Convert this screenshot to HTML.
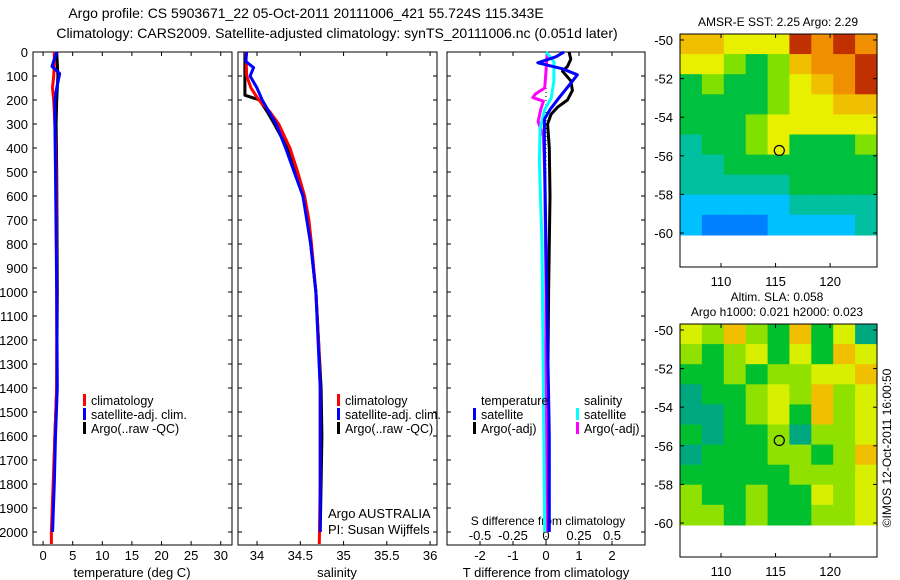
<!DOCTYPE html>
<html><head><meta charset="utf-8"><style>
html,body{margin:0;padding:0;background:#fff;}
svg{display:block;font-family:"Liberation Sans",sans-serif;}
</style></head><body>
<svg id="c" width="900" height="580" viewBox="0 0 900 580" xmlns="http://www.w3.org/2000/svg">
<text x="306" y="18" font-size="14" text-anchor="middle">Argo profile: CS 5903671_22 05-Oct-2011 20111006_421 55.724S 115.343E</text>
<text x="337" y="38" font-size="14" text-anchor="middle">Climatology: CARS2009. Satellite-adjusted climatology: synTS_20111006.nc (0.051d later)</text>
<text x="778" y="26" font-size="12" text-anchor="middle">AMSR-E SST: 2.25 Argo: 2.29</text>
<text x="777" y="301" font-size="12" text-anchor="middle">Altim. SLA: 0.058</text>
<text x="777" y="316" font-size="12" text-anchor="middle">Argo h1000: 0.021 h2000: 0.023</text>
<text transform="translate(891,448) rotate(-90)" font-size="12" text-anchor="middle">©IMOS 12-Oct-2011 16:00:50</text>
<g id="g"></g>
</svg>
<script>
// ---------- data ----------
const depthTicks=[0,100,200,300,400,500,600,700,800,900,1000,1100,1200,1300,1400,1500,1600,1700,1800,1900,2000];
const tempTicks=[0,5,10,15,20,25,30];
const salTicks=[34,34.5,35,35.5,36];
const salTickLabels=["34","34.5","35","35.5","36"];
const tdTicks=[-2,-1,0,1,2];
const sdTicks=[-0.5,-0.25,0,0.25,0.5];
const sdTickLabels=["-0.5","-0.25","0","0.25","0.5"];

const tClimD=[0,50,100,150,200,300,500,1000,1400,1600,1800,2000,2050];
const tClimV=[1.9,1.9,1.8,1.6,1.8,2.0,2.2,2.3,2.3,2.0,1.7,1.4,1.4];
const tSatD=[0,60,90,150,200,300,500,1000,1400,1600,1800,2000];
const tSatV=[2.3,1.5,2.8,2.3,2.0,2.0,2.1,2.3,2.4,2.1,1.9,1.6];
const tArgoD=[0,100,200,300,500,1000,1400,1600,1800,2000];
const tArgoV=[2.3,2.5,2.3,2.2,2.3,2.4,2.3,2.0,1.8,1.6];

const sClimD=[0,100,150,200,250,300,400,500,600,700,800,1000,1200,1400,1800,2050];
const sClimV=[33.87,33.88,33.93,34.02,34.15,34.25,34.38,34.47,34.55,34.6,34.63,34.68,34.71,34.73,34.73,34.72];
const sArgoD=[0,180,200,250,300,400,500,600,800,1000,1400,1600,1800,2000];
const sArgoV=[33.86,33.86,34.03,34.12,34.2,34.35,34.45,34.54,34.62,34.68,34.74,34.75,34.74,34.73];
const sSatD=[0,40,65,100,150,200,250,300,400,500,600,800,1000,1400,2000];
const sSatV=[33.88,33.87,33.96,33.92,34.0,34.06,34.14,34.22,34.33,34.43,34.53,34.62,34.68,34.73,34.73];

const dTArgoD=[0,30,60,80,120,160,200,230,260,300,400,600,1000,1500,2000];
const dTArgoV=[0.7,0.75,0.65,0.5,0.75,0.8,0.65,0.35,0.15,0.05,0.1,0.12,0.08,0.05,0.05];
const dTSatD=[0,20,45,70,95,130,190,240,280,400,800,1200,1600,2000];
const dTSatV=[0.55,0.3,-0.25,0.5,0.95,0.75,0.4,0.12,-0.05,-0.05,0.0,0.05,0.1,0.1];
const dSArgoD=[0,80,150,175,190,205,240,290,350,500,1000,2000];
const dSArgoV=[0.01,0.0,-0.01,-0.08,-0.1,-0.02,-0.04,-0.06,-0.02,-0.01,0.0,0.0];
const dSSatD=[0,40,120,190,240,320,460,800,1400,2000];
const dSSatV=[0.0,0.06,0.06,0.04,-0.01,-0.045,-0.05,-0.03,-0.02,-0.01];

const latTicks=[-50,-52,-54,-56,-58,-60];
const lonTicks=[110,115,120];
const sstGrid=[
[7,7,6,6,6,9,8,9,8],
[6,6,5,4,5,7,8,8,9],
[4,5,4,4,5,6,7,8,9],
[4,4,4,4,5,6,6,7,7],
[4,4,4,5,6,6,6,6,6],
[3,4,4,5,6,4,4,4,5],
[3,3,4,4,4,4,4,4,4],
[3,3,3,3,3,4,4,4,4],
[2,2,2,2,2,3,3,3,3],
[2,1,1,1,2,2,2,2,3]];
const slaGrid=[
[6,5,7,5,4,7,4,6,3],
[5,4,5,6,4,6,4,7,6],
[4,4,5,4,5,5,6,6,7],
[3,4,4,5,6,5,7,5,6],
[3,3,4,5,6,4,7,5,6],
[4,3,4,4,5,3,5,5,6],
[3,4,4,4,5,5,4,5,7],
[4,4,4,4,4,5,5,5,6],
[5,4,4,5,4,4,6,5,6],
[5,5,4,5,4,4,5,5,6]];
const argoLon=115.343, argoLat=-55.724;

// ---------- drawing ----------
const NS="http://www.w3.org/2000/svg";
const G=document.getElementById('g');
function mk(t,a,p){const e=document.createElementNS(NS,t);for(const k in a)e.setAttribute(k,a[k]);(p||G).appendChild(e);return e;}
const TOP=52,BOT=545;
const yD=d=>TOP+d*0.24;
const panels=[
 {name:'temperature-panel',x0:33,x1:232,v0:-1.7,v1:31.9},
 {name:'salinity-panel',x0:238,x1:437,v0:33.78,v1:36.08},
 {name:'difference-panel',x0:447,x1:645,v0:-3.0,v1:3.0}];
function sx(p,v){return p.x0+(v-p.v0)/(p.v1-p.v0)*(p.x1-p.x0);}

panels.forEach((p,i)=>{
  const r=mk('rect',{x:p.x0,y:TOP,width:p.x1-p.x0,height:BOT-TOP,fill:'none',stroke:'#000','stroke-width':1});
  
  
  depthTicks.forEach(d=>{
    mk('line',{x1:p.x0,x2:p.x0+4,y1:yD(d),y2:yD(d),stroke:'#000'});
    mk('line',{x1:p.x1-4,x2:p.x1,y1:yD(d),y2:yD(d),stroke:'#000'});
  });
});
depthTicks.forEach(d=>{
  const t=mk('text',{x:28,y:yD(d)+5,'font-size':13,'text-anchor':'end'});t.textContent=d;
  
  
});
function xticks(p,vals,labels,ly){
  vals.forEach((v,i)=>{const x=sx(p,v);
    mk('line',{x1:x,x2:x,y1:BOT,y2:BOT-4,stroke:'#000'});
    mk('line',{x1:x,x2:x,y1:TOP,y2:TOP+4,stroke:'#000'});
    const t=mk('text',{x:x,y:ly,'font-size':13,'text-anchor':'middle'});t.textContent=labels?labels[i]:v;
    
    
  });
}
xticks(panels[0],tempTicks,null,560);
xticks(panels[1],salTicks,salTickLabels,560);
xticks(panels[2],tdTicks,null,560);
sdTicks.forEach((v,i)=>{const t=mk('text',{x:sx(panels[2],v*4),y:540,'font-size':13,'text-anchor':'middle'});t.textContent=sdTickLabels[i];
  
  });
function label(x,y,s,name,anchor,fs){const t=mk('text',{x:x,y:y,'font-size':fs||13,'text-anchor':anchor||'middle'});t.textContent=s;
  
  return t;}
label(132,577,'temperature (deg C)','x-axis-title-temperature');
label(337,577,'salinity','x-axis-title-salinity');
label(546,577,'T difference from climatology','x-axis-title-t-diff');
label(548,525,'S difference from climatology','s-diff-axis-title','middle',12);
label(328,518,'Argo AUSTRALIA','argo-australia-label','start');
label(328,534,'PI: Susan Wijffels','pi-label','start');

mk('line',{x1:sx(panels[2],0),x2:sx(panels[2],0),y1:TOP,y2:BOT,stroke:'#000','stroke-dasharray':'1,3'});

function line(p,D,V,scale,color,name,w){
  const pts=D.map((d,i)=>sx(p,V[i]*scale).toFixed(1)+','+yD(d).toFixed(1)).join(' ');
  const l=mk('polyline',{points:pts,fill:'none',stroke:color,'stroke-width':w||3,'stroke-linejoin':'round'});
  
  
}
line(panels[0],tArgoD,tArgoV,1,'#000','temp-argo-line');
line(panels[0],tClimD,tClimV,1,'#f00','temp-climatology-line');
line(panels[0],tSatD,tSatV,1,'#00f','temp-satellite-line');
line(panels[1],sArgoD,sArgoV,1,'#000','sal-argo-line');
line(panels[1],sClimD,sClimV,1,'#f00','sal-climatology-line');
line(panels[1],sSatD,sSatV,1,'#00f','sal-satellite-line');
line(panels[2],dTArgoD,dTArgoV,1,'#000','t-diff-argo-line');
line(panels[2],dSArgoD,dSArgoV,4,'#f0f','s-diff-argo-line');
line(panels[2],dSSatD,dSSatV,4,'#0ff','s-diff-satellite-line');
line(panels[2],dTSatD,dTSatV,1,'#00f','t-diff-satellite-line');

function legend(x,y,color,text,name){
  mk('rect',{x:x,y:y-10,width:3,height:12,fill:color});
  const t=mk('text',{x:x+8,y:y+1,'font-size':12.5});t.textContent=text;
  
  
}
legend(83,404,'#f00','climatology','legend-temp-climatology');
legend(83,418,'#00f','satellite-adj. clim.','legend-temp-satellite');
legend(83,432,'#000','Argo(..raw -QC)','legend-temp-argo');
legend(337,404,'#f00','climatology','legend-sal-climatology');
legend(337,418,'#00f','satellite-adj. clim.','legend-sal-satellite');
legend(337,432,'#000','Argo(..raw -QC)','legend-sal-argo');
label(481,405,'temperature','legend-temperature-heading','start',12.5);
label(584,405,'salinity','legend-salinity-heading','start',12.5);
legend(473,418,'#00f','satellite','legend-tdiff-satellite');
legend(473,432,'#000','Argo(-adj)','legend-tdiff-argo');
legend(576,418,'#0ff','satellite','legend-sdiff-satellite');
legend(576,432,'#f0f','Argo(-adj)','legend-sdiff-argo');

// ---------- maps ----------
const cmap=['#0040e0','#0080ff','#00c0ff','#00c0a0','#00c040','#80e000','#e8f000','#f0c000','#f09000','#c03000'];
const cmap2=['#0040e0','#0080ff','#00c0ff','#00a880','#00c030','#90e000','#d8f000','#f0c000','#f09000','#c03000'];
function map(name,top,grid,cm){
  const L=680,R=877,lonL=106.24,lonR=124.3;
  const yLat=lat=>top+6+(-50-lat)*19.3;
  const xLon=lon=>L+(lon-lonL)/(lonR-lonL)*(R-L);
  const rows=grid.length,cols=grid[0].length;
  const y0=top, y1=yLat(-60.1);
  grid.forEach((row,i)=>row.forEach((v,j)=>{
    const c=mk('rect',{x:(L+j*(R-L)/cols).toFixed(1),y:(y0+i*(y1-y0)/rows).toFixed(1),width:((R-L)/cols+0.6).toFixed(1),height:((y1-y0)/rows+0.6).toFixed(1),fill:cm[v]});
    
    
  }));
  const f=mk('rect',{x:L,y:top,width:R-L,height:233,fill:'none',stroke:'#000'});
  
  
  latTicks.forEach(lat=>{const y=yLat(lat);
    mk('line',{x1:L,x2:L+4,y1:y,y2:y,stroke:'#000'});mk('line',{x1:R-4,x2:R,y1:y,y2:y,stroke:'#000'});
    label(673,y+5,String(lat),name+'-lat-label','end');});
  lonTicks.forEach(lon=>{const x=xLon(lon);
    mk('line',{x1:x,x2:x,y1:top+233,y2:top+229,stroke:'#000'});mk('line',{x1:x,x2:x,y1:top,y2:top+4,stroke:'#000'});
    label(x,top+252,String(lon),name+'-lon-label');});
  const c=mk('circle',{cx:xLon(argoLon),cy:yLat(argoLat),r:5,fill:'none',stroke:'#000','stroke-width':1.2});
  
  
}
map('sst-map',34,sstGrid,cmap);
map('sla-map',324,slaGrid,cmap2);
</script>
</body></html>
